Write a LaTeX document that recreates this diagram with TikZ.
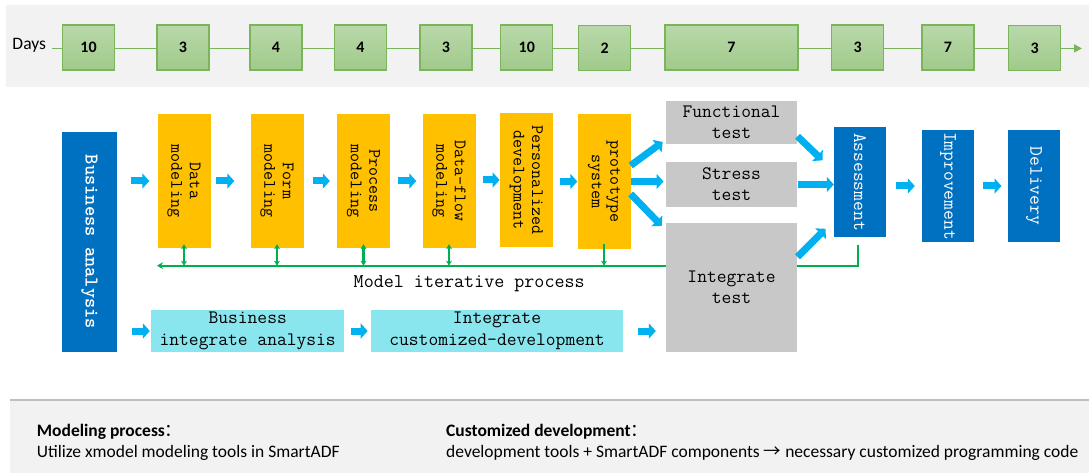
\documentclass[tikz,border=0pt]{standalone}
\usepackage{fontspec}
\setmainfont{Carlito}
\newfontfamily\cjk{Noto Sans CJK SC}
\usepackage{xcolor}
\usetikzlibrary{arrows.meta}

\definecolor{bandgray}{RGB}{242,242,242}
\definecolor{daytop}{RGB}{185,216,170}
\definecolor{daybot}{RGB}{160,202,138}
\definecolor{dayline}{RGB}{122,181,92}
\definecolor{modelorange}{RGB}{255,192,0}
\definecolor{stageblue}{RGB}{0,112,192}
\definecolor{devcyan}{RGB}{138,230,238}
\definecolor{testgray}{RGB}{200,200,200}
\definecolor{flowblue}{RGB}{0,176,240}
\definecolor{itergreen}{RGB}{0,176,80}

\begin{document}
\begin{tikzpicture}[x=1pt,y=1pt,yscale=-1,xscale=1,
  daybox/.style={draw=dayline, line width=1.2pt, top color=daytop, bottom color=daybot, minimum width=52pt, minimum height=45pt, inner sep=0, font=\fontsize{16}{16}\selectfont\bfseries},
  modelbox/.style={fill=modelorange, minimum width=53pt, minimum height=134pt, inner sep=0},
  modeltext/.style={rotate=-90, align=center, inner sep=0, font=\ttfamily\fontsize{17.5}{18.5}\selectfont},
  stagebox/.style={fill=stageblue, minimum width=52pt, inner sep=0},
  stagetext/.style={rotate=-90, align=center, inner sep=0, text=white, font=\ttfamily\fontsize{19}{20}\selectfont},
  testbox/.style={fill=testgray, minimum width=131.6pt, align=center, inner sep=0, font=\ttfamily\fontsize{19}{21}\selectfont},
  devbox/.style={fill=devcyan, minimum height=41.7pt, align=center, inner sep=0, font=\ttfamily\fontsize{19}{21.6}\selectfont},
  flow/.style={draw=flowblue, line width=7pt, -{Triangle[length=7pt,width=15pt]}},
  iterline/.style={draw=itergreen, line width=2.2pt},
  note/.style={anchor=west, inner sep=0, font=\fontsize{17.5}{21}\selectfont}]
\useasboundingbox (0,0) rectangle (1089,473);

%Band: days
\fill[bandgray] (6,5) rectangle (1089,87);
\node[note] (days) at (12.3,45.6) {Days};
\coordinate (dend) at (1082,48.4);
\draw[dayline, line width=1.5pt, shorten <=6pt, -{Triangle[length=8pt,width=8pt]}] (days.east |- dend) -- (dend);

%Day boxes
\node[daybox] (d1) at (88.5,47.5) {10};
\node[daybox] (d2) at (183,47.5) {3};
\node[daybox] (d3) at (276,47.5) {4};
\node[daybox] (d4) at (360.4,47.5) {4};
\node[daybox] (d5) at (446,47.5) {3};
\node[daybox] (d6) at (526.8,47.5) {10};
\node[daybox] (d7) at (604.6,48) {2};
\node[daybox, minimum width=133pt] (d8) at (731.5,47.5) {7};
\node[daybox] (d9) at (857.7,47.5) {3};
\node[daybox] (d10) at (948,47.5) {7};
\node[daybox] (d11) at (1034.7,48) {3};

%Business analysis
\node[stagebox, minimum width=55pt, minimum height=220pt] (BA) at (89.5,242) {};
\node[stagetext, font=\ttfamily\bfseries\fontsize{19.5}{20}\selectfont] (BAt) at (BA) {Business analysis};

%Modeling boxes
\node[modelbox] (DM) at (184,181) {};
\node[modeltext] (DMt) at (DM) {Data\\modeling};
\node[modelbox] (FM) at (277,181) {};
\node[modeltext] (FMt) at (FM) {Form\\modeling};
\node[modelbox] (PM) at (363.5,181) {};
\node[modeltext] (PMt) at (PM) {Process\\modeling};
\node[modelbox] (DF) at (449,181) {};
\node[modeltext] (DFt) at (DF) {Data-flow\\modeling};
\node[modelbox] (PD) at (526.3,180) {};
\node[modeltext] (PDt) at (PD) {Personalized\\development};
\node[modelbox] (PS) at (604,181.5) {};
\node[modeltext] (PSt) at (PS) {prototype\\system};

%Assessment, improvement, delivery
\node[stagebox, minimum height=110.6pt] (AS) at (860,182) {};
\node[stagetext] (ASt) at (AS) {Assessment};
\node[stagebox, minimum height=112pt] (IM) at (948,186) {};
\node[stagetext] (IMt) at (IM) {Improvement};
\node[stagebox, minimum height=112pt] (DL) at (1034,186) {};
\node[stagetext] (DLt) at (DL) {Delivery};

%Model iterative process
\coordinate (iter) at (157,265.7);
\draw[iterline, -{Stealth[length=6pt,width=7pt]}] (AS.south) ++(-2,7) |- (iter);
\draw[iterline, {Stealth[length=5pt,width=6pt]}-{Stealth[length=5pt,width=6pt]}] (DM.south) ++(0,-4) -- (DM.south |- iter);
\draw[iterline, {Stealth[length=5pt,width=6pt]}-{Stealth[length=5pt,width=6pt]}] (FM.south) ++(0,-4) -- (FM.south |- iter);
\draw[iterline, {Stealth[length=5pt,width=6pt]}-{Stealth[length=5pt,width=6pt]}] (PM.south) ++(0,-4) -- (PM.south |- iter);
\draw[iterline, {Stealth[length=5pt,width=6pt]}-{Stealth[length=5pt,width=6pt]}] (DF.south) ++(0,-4) -- (DF.south |- iter);
\draw[iterline, -{Stealth[length=5pt,width=6pt]}] (PS.south) ++(0,-5) -- (PS.south |- iter);
\node[font=\ttfamily\fontsize{19.5}{20}\selectfont, inner sep=0] (itertext) at (469.2,283.3) {Model iterative process};

%Tests
\node[testbox, minimum height=43.3pt] (FT) at (731.5,122.3) {Functional\\test};
\node[testbox, minimum height=45pt] (ST) at (731.5,184.5) {Stress\\test};
\node[testbox, minimum height=129.3pt] (IT) at (731.5,287.6) {Integrate\\test};

%Customized development
\node[devbox, minimum width=193.3pt] (BIA) at (247.7,331) {Business\\integrate analysis};
\node[devbox, minimum width=252.3pt] (ICD) at (497,331) {Integrate\\customized-development};

%Flow arrows
\draw[flow, shorten <=14pt, shorten >=8pt] (BA.east |- DM) -- (DM.west);
\draw[flow, shorten <=5pt, shorten >=16pt] (DM.east) -- (FM.west);
\draw[flow, shorten <=9pt, shorten >=7pt] (FM.east) -- (PM.west);
\draw[flow, shorten <=8pt, shorten >=6pt] (PM.east) -- (DF.west);
\draw[flow, shorten <=7pt] (DF.east |- PD) -- (PD.west);
\draw[flow, shorten <=6.5pt] (PD.east |- PS) -- (PS.west);
\draw[flow] (PS.31) -- ++(32,-23.5);
\draw[flow, shorten >=2pt] (PS.east) -- (PS.east -| ST.west);
\draw[flow] (PS.-25) -- ++(31,32);
\draw[flow] (FT.-12) -- ++(25,24);
\draw[flow] (ST.east) -- (ST.east -| AS.west);
\draw[flow] (IT.25) -- ++(28,-28);
\draw[flow, shorten <=10pt, shorten >=7pt] (AS.east |- IM) -- (IM.west);
\draw[flow, shorten <=8.7pt, shorten >=6.3pt] (IM.east) -- (DL.west);
\draw[flow, shorten <=15pt, shorten >=1pt] (BA.east |- BIA) -- (BIA.west);
\draw[flow, shorten <=6pt, shorten >=3pt] (BIA.east) -- (ICD.west);
\draw[flow, shorten <=15pt, shorten >=9.7pt] (ICD.east) -- (ICD.east -| IT.west);

%Band: notes
\fill[bandgray] (10,400) rectangle (1089,473);
\draw[black!25, line width=1.2pt] (10,400) -- (1089,400);
\node[note, font=\fontsize{17.5}{21}\selectfont\bfseries] (mp) at (36.7,431.7) {Modeling process{\cjk\mdseries ：}};
\node[note] (mpt) at (36.7,453.3) {Utilize xmodel modeling tools in SmartADF};
\node[note, font=\fontsize{17.5}{21}\selectfont\bfseries] (cd) at (446,431.7) {Customized development{\cjk\mdseries ：}};
\node[note] (cdt) at (446,453.3) {development tools + SmartADF components {\cjk →} necessary customized programming code};

\end{tikzpicture}
\end{document}
